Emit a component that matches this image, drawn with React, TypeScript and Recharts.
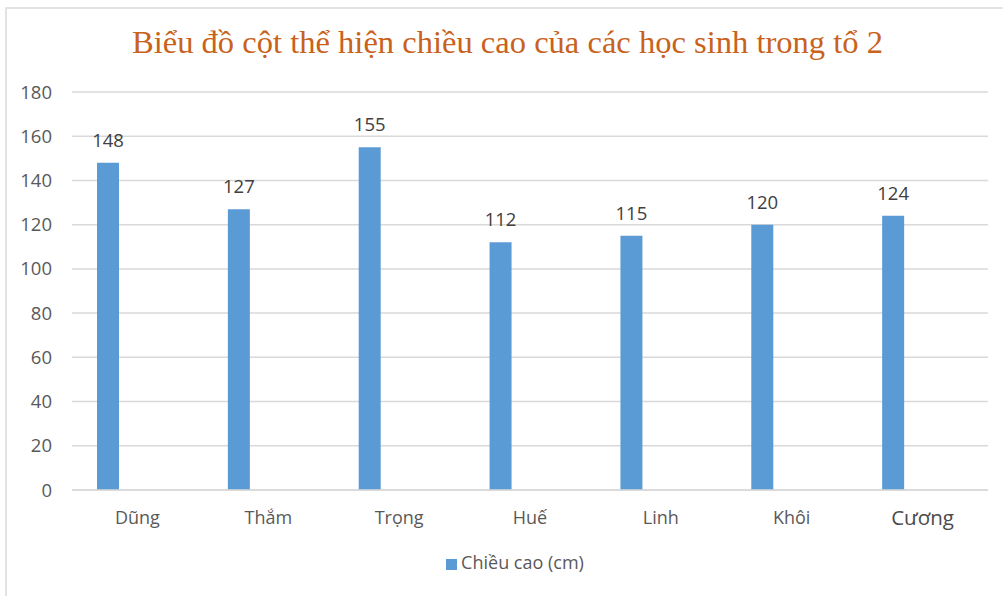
import { BarChart, Bar, XAxis, YAxis, CartesianGrid, Legend, LabelList } from "recharts";

const students = ["Dũng", "Thắm", "Trọng", "Huế", "Linh", "Khôi", "Cương"];
const heights = [148, 127, 155, 112, 115, 120, 124];
const yTicks = [0, 20, 40, 60, 80, 100, 120, 140, 160, 180];

const TITLE = "Biểu đồ cột thể hiện chiều cao của các học sinh trong tổ 2";
const SERIES_NAME = "Chiều cao (cm)";

const BAR_COLOR = "#5B9BD5";
const TEXT_COLOR = "#595959";
const GRID_COLOR = "#d9d9d9";
const FONT = "'Open Sans', 'Noto Sans', sans-serif";

// second (empty) series keeps the blue column on the left of each slot, like a clustered column
const chartData = students.map((name, i) => ({ name, height: heights[i], empty: null }));

function CategoryTick(props: any) {
  const { x, y, payload, index } = props;
  const last = index === students.length - 1;
  return (
    <text
      x={x}
      y={y}
      dy={last ? 27 : 26}
      textAnchor="middle"
      fill={last ? "#4a4a4a" : TEXT_COLOR}
      fontSize={last ? 20.5 : 18}
      fontFamily={FONT}
    >
      {payload.value}
    </text>
  );
}

export default function App() {
  return (
    <div
      style={{
        position: "absolute",
        left: 0,
        top: 0,
        width: 1003,
        height: 596,
        overflow: "hidden",
        background: "#fff",
      }}
    >
      <div
        style={{
          position: "absolute",
          left: 5,
          top: 7,
          width: 1010,
          height: 610,
          border: "2px solid #e2e2e2",
          boxSizing: "border-box",
        }}
      />
      <svg width={1003} height={80} style={{ position: "absolute", left: 0, top: 0 }}>
        <text
          x={132}
          y={53}
          fontFamily="'Liberation Serif', 'Times New Roman', serif"
          fontSize={31}
          fill="#C8621C"
          textLength={751}
          lengthAdjust="spacingAndGlyphs"
        >
          {TITLE}
        </text>
      </svg>
      <div style={{ position: "absolute", left: 0, top: 0 }}>
        <BarChart
          width={1003}
          height={596}
          data={chartData}
          margin={{ top: 92, right: 15, bottom: 52, left: 0 }}
          barSize={22}
          barGap={37}
        >
          <CartesianGrid vertical={false} stroke={GRID_COLOR} strokeWidth={1.5} />
          <XAxis
            dataKey="name"
            axisLine={{ stroke: GRID_COLOR, strokeWidth: 1.5 }}
            tickLine={false}
            tick={<CategoryTick />}
            interval={0}
          />
          <YAxis
            width={72}
            domain={[0, 180]}
            ticks={yTicks}
            axisLine={false}
            tickLine={false}
            tickMargin={14}
            tick={{ fill: TEXT_COLOR, fontSize: 18.5, fontFamily: FONT }}
          />
          <Legend
            verticalAlign="bottom"
            align="center"
            iconType="square"
            iconSize={11}
            wrapperStyle={{ bottom: 22, left: 26, fontFamily: FONT, fontSize: 18 }}
            formatter={(value) => <span style={{ color: TEXT_COLOR }}>{value}</span>}
          />
          <Bar dataKey="height" name={SERIES_NAME} fill={BAR_COLOR} isAnimationActive={false}>
            <LabelList
              dataKey="height"
              position="top"
              offset={16}
              fill="#404040"
              fontSize={18.5}
              fontFamily={FONT}
            />
          </Bar>
          <Bar dataKey="empty" fill="none" legendType="none" isAnimationActive={false} />
        </BarChart>
      </div>
    </div>
  );
}
